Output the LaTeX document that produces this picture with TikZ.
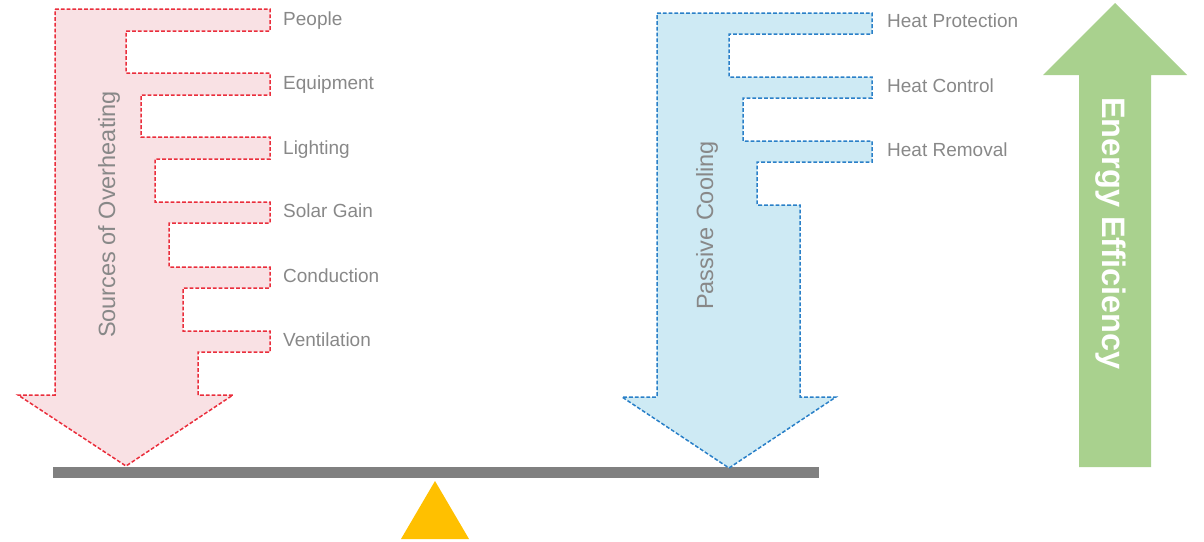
\documentclass[tikz,border=0pt]{standalone}
\usepackage{fontspec}
\setmainfont{Liberation Sans}
\begin{document}
\begin{tikzpicture}[x=1pt,y=-1pt,
  label/.style={anchor=base west,inner sep=0pt,text=labelgray,font=\fontsize{19}{21}\selectfont},
  axistext/.style={anchor=base,inner sep=0pt,text=labelgray,font=\fontsize{23.5}{26}\selectfont},
  heatarrow/.style={draw=heatred,fill=heatfill,line width=1.5pt,dash pattern=on 3.8pt off 2pt,line join=miter},
  coolarrow/.style={draw=coolblue,fill=coolfill,line width=1.5pt,dash pattern=on 3.8pt off 2pt,line join=miter}]
\definecolor{labelgray}{HTML}{888888}
\definecolor{heatred}{HTML}{EA2E3C}
\definecolor{heatfill}{HTML}{F9E1E4}
\definecolor{coolblue}{HTML}{2A80C8}
\definecolor{coolfill}{HTML}{CEEAF4}
\definecolor{effgreen}{HTML}{A9D18E}
\definecolor{beamgray}{HTML}{808080}
\definecolor{pivot}{HTML}{FFC000}
\useasboundingbox (0,0) rectangle (1204,541);

% balance beam and pivot
\fill[beamgray] (53,467) rectangle (819,478);
\fill[pivot] (401,539) -- (435,481) -- (469,539) -- cycle;

% comb arrow: sources of overheating
\path[heatarrow] (55,9) -- (270,9) -- (270,31) -- (126,31) -- (126,73) -- (270,73)
  -- (270,95) -- (141,95) -- (141,137) -- (270,137) -- (270,159) -- (155,159)
  -- (155,202) -- (270,202) -- (270,223) -- (169,223) -- (169,267) -- (270,267)
  -- (270,288) -- (183,288) -- (183,331) -- (270,331) -- (270,352) -- (198,352)
  -- (198,395) -- (233,395) -- (126,466) -- (18,395) -- (55,395) -- cycle;

% comb arrow: passive cooling
\path[coolarrow] (657,13) -- (872,13) -- (872,34) -- (729,34) -- (729,77) -- (872,77)
  -- (872,98) -- (743,98) -- (743,141) -- (872,141) -- (872,162) -- (757,162)
  -- (757,205) -- (800,205) -- (800,397) -- (836,397) -- (729,468) -- (622,397)
  -- (657,397) -- cycle;

% energy efficiency arrow
\fill[effgreen] (1079,467) -- (1079,75) -- (1043,75) -- (1115,3) -- (1187,75)
  -- (1151,75) -- (1151,467) -- cycle;

% arrow titles
\node[axistext,rotate=90] (sources) at (115,214.5) {Sources of Overheating};
\node[axistext,rotate=90] (passive) at (713,225.5) {Passive Cooling};
\node[anchor=base,inner sep=0pt,rotate=-90,text=white,font=\bfseries\fontsize{32.5}{36}\selectfont] (energy) at (1102,233.5) {Energy Efficiency};

% overheating sources
\node[label] (people) at (283,25) {People};
\node[label] (equipment) at (283,89) {Equipment};
\node[label] (lighting) at (283,154) {Lighting};
\node[label] (solar) at (283,217) {Solar Gain};
\node[label] (conduction) at (283,282) {Conduction};
\node[label] (ventilation) at (283,346) {Ventilation};

% cooling strategies
\node[label] (protection) at (887,27) {Heat Protection};
\node[label] (control) at (887,92) {Heat Control};
\node[label] (removal) at (887,156) {Heat Removal};
\end{tikzpicture}
\end{document}
